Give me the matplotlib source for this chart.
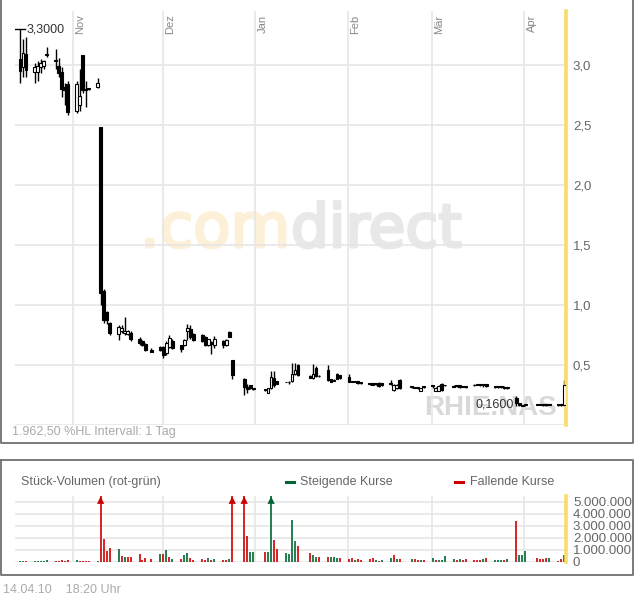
import matplotlib
matplotlib.use("Agg")
import matplotlib.pyplot as plt
import matplotlib.dates as mdates
import matplotlib.patheffects as pe
from matplotlib.patches import Rectangle
from matplotlib.lines import Line2D
import numpy as np

plt.rcParams['font.family'] = ['Liberation Sans', 'DejaVu Sans']

# daily candles (RHIE.NAS), one entry per trading day
dates = [
    "2009-10-14", "2009-10-15", "2009-10-16",
    "2009-10-19", "2009-10-20", "2009-10-21", "2009-10-22", "2009-10-23",
    "2009-10-26", "2009-10-27", "2009-10-28", "2009-10-29", "2009-10-30",
    "2009-11-02", "2009-11-03", "2009-11-04", "2009-11-05", "2009-11-06",
    "2009-11-09", "2009-11-10", "2009-11-11", "2009-11-12", "2009-11-13",
    "2009-11-16", "2009-11-17", "2009-11-18", "2009-11-19", "2009-11-20",
    "2009-11-23", "2009-11-24", "2009-11-25", "2009-11-27",
    "2009-11-30", "2009-12-01", "2009-12-02", "2009-12-03", "2009-12-04",
    "2009-12-07", "2009-12-08", "2009-12-09", "2009-12-10", "2009-12-11",
    "2009-12-14", "2009-12-15", "2009-12-16", "2009-12-17", "2009-12-18",
    "2009-12-21", "2009-12-22", "2009-12-23", "2009-12-24",
    "2009-12-28", "2009-12-29", "2009-12-30", "2009-12-31",
    "2010-01-04", "2010-01-05", "2010-01-06", "2010-01-07", "2010-01-08",
    "2010-01-11", "2010-01-12", "2010-01-13", "2010-01-14", "2010-01-15",
    "2010-01-19", "2010-01-20", "2010-01-21", "2010-01-22",
    "2010-01-25", "2010-01-26", "2010-01-27", "2010-01-28", "2010-01-29",
    "2010-02-01", "2010-02-02", "2010-02-03", "2010-02-04", "2010-02-05",
    "2010-02-08", "2010-02-09", "2010-02-10", "2010-02-11", "2010-02-12",
    "2010-02-15", "2010-02-16", "2010-02-17", "2010-02-18",
    "2010-02-22", "2010-02-23", "2010-02-24", "2010-02-25", "2010-02-26",
    "2010-03-01", "2010-03-02", "2010-03-03", "2010-03-04", "2010-03-05",
    "2010-03-08", "2010-03-09", "2010-03-10", "2010-03-11", "2010-03-12",
    "2010-03-15", "2010-03-16", "2010-03-17", "2010-03-18", "2010-03-19",
    "2010-03-22", "2010-03-23", "2010-03-24", "2010-03-25", "2010-03-26",
    "2010-03-29", "2010-03-30", "2010-03-31", "2010-04-01",
    "2010-04-05", "2010-04-06", "2010-04-07", "2010-04-08", "2010-04-09",
    "2010-04-12", "2010-04-13", "2010-04-14",
]
opens = [
    3.05, 2.98, 3.09,
    2.94, 2.94, 2.98, 2.99, 3.08,
    3.04, 2.99, 2.94, 2.82, 2.84,
    2.62, 2.67, 3.08, 2.80, 2.80,
    2.82, 2.48, 1.12, 0.94, 0.85,
    0.76, 0.78, 0.77, 0.76, 0.77,
    0.72, 0.70, 0.675, 0.625,
    0.65, 0.65, 0.60, 0.65, 0.70,
    0.665, 0.665, 0.78, 0.80, 0.76,
    0.75, 0.73, 0.665, 0.69, 0.665,
    0.70, 0.665, 0.775, 0.54,
    0.385, 0.32, 0.33, 0.30,
    0.29, 0.27, 0.31, 0.39, 0.37,
    0.36, 0.36, 0.365, 0.425, 0.50,
    0.41, 0.39, 0.475, 0.41,
    0.46, 0.38, 0.375, 0.425, 0.42,
    0.40, 0.37, 0.365, 0.365, 0.35,
    0.345, 0.35, 0.345, 0.35, 0.35,
    0.35, 0.29, 0.31, 0.375,
    0.32, 0.315, 0.31, 0.285, 0.315,
    0.33, 0.285, 0.285, 0.34, 0.335,
    0.325, 0.33, 0.33, 0.32, 0.32,
    0.335, 0.335, 0.34, 0.335, 0.34,
    0.32, 0.315, 0.32, 0.32, 0.31,
    0.225, 0.18, 0.165, 0.165,
    0.17, 0.17, 0.165, 0.165, 0.17,
    0.165, 0.165, 0.165,
]
highs = [
    3.30, 3.22, 3.23,
    3.02, 3.03, 3.05, 3.04, 3.15,
    3.13, 3.06, 2.98, 2.85, 2.87,
    2.87, 2.97, 3.08, 2.87, 2.81,
    2.89, 2.48, 1.13, 0.95, 0.86,
    0.83, 0.83, 0.90, 0.79, 0.78,
    0.73, 0.71, 0.68, 0.64,
    0.66, 0.66, 0.70, 0.75, 0.72,
    0.67, 0.72, 0.84, 0.83, 0.77,
    0.76, 0.74, 0.72, 0.70, 0.74,
    0.71, 0.72, 0.78, 0.54,
    0.39, 0.34, 0.33, 0.305,
    0.295, 0.31, 0.45, 0.45, 0.37,
    0.36, 0.37, 0.52, 0.52, 0.51,
    0.42, 0.51, 0.49, 0.415,
    0.50, 0.38, 0.38, 0.43, 0.42,
    0.425, 0.37, 0.37, 0.365, 0.35,
    0.35, 0.35, 0.35, 0.355, 0.35,
    0.375, 0.34, 0.34, 0.38,
    0.325, 0.32, 0.315, 0.31, 0.32,
    0.335, 0.315, 0.33, 0.35, 0.335,
    0.33, 0.335, 0.335, 0.325, 0.325,
    0.34, 0.34, 0.345, 0.34, 0.345,
    0.325, 0.32, 0.325, 0.325, 0.32,
    0.24, 0.185, 0.17, 0.17,
    0.175, 0.17, 0.17, 0.17, 0.17,
    0.17, 0.17, 0.375,
]
lows = [
    2.85, 2.90, 2.90,
    2.85, 2.87, 2.93, 2.97, 3.07,
    2.97, 2.90, 2.73, 2.67, 2.58,
    2.60, 2.62, 2.77, 2.65, 2.79,
    2.81, 1.00, 0.85, 0.84, 0.75,
    0.71, 0.77, 0.75, 0.75, 0.70,
    0.67, 0.66, 0.62, 0.61,
    0.62, 0.56, 0.58, 0.64, 0.63,
    0.61, 0.66, 0.71, 0.72, 0.70,
    0.69, 0.66, 0.66, 0.59, 0.64,
    0.64, 0.66, 0.73, 0.38,
    0.25, 0.27, 0.30, 0.295,
    0.285, 0.27, 0.30, 0.32, 0.34,
    0.355, 0.34, 0.36, 0.42, 0.41,
    0.39, 0.38, 0.40, 0.40,
    0.37, 0.36, 0.37, 0.38, 0.385,
    0.36, 0.355, 0.355, 0.34, 0.345,
    0.335, 0.33, 0.335, 0.32, 0.325,
    0.335, 0.285, 0.30, 0.30,
    0.31, 0.305, 0.30, 0.28, 0.31,
    0.31, 0.28, 0.28, 0.285, 0.325,
    0.315, 0.32, 0.31, 0.315, 0.31,
    0.325, 0.33, 0.325, 0.32, 0.32,
    0.31, 0.305, 0.305, 0.30, 0.30,
    0.16, 0.16, 0.16, 0.16,
    0.165, 0.165, 0.16, 0.16, 0.165,
    0.16, 0.16, 0.16,
]
closes = [
    2.95, 3.10, 2.96,
    2.98, 2.99, 3.02, 3.03, 3.09,
    3.03, 2.93, 2.80, 2.79, 2.61,
    2.84, 2.74, 2.79, 2.79, 2.80,
    2.85, 1.10, 0.875, 0.875, 0.77,
    0.82, 0.81, 0.78, 0.78, 0.72,
    0.68, 0.67, 0.625, 0.61,
    0.625, 0.58, 0.68, 0.725, 0.64,
    0.635, 0.71, 0.81, 0.73, 0.71,
    0.70, 0.665, 0.715, 0.675, 0.715,
    0.665, 0.71, 0.735, 0.42,
    0.315, 0.30, 0.31, 0.30,
    0.29, 0.31, 0.40, 0.33, 0.34,
    0.355, 0.355, 0.425, 0.46, 0.415,
    0.39, 0.425, 0.41, 0.405,
    0.375, 0.36, 0.37, 0.385, 0.39,
    0.36, 0.36, 0.36, 0.35, 0.35,
    0.34, 0.335, 0.34, 0.325, 0.33,
    0.345, 0.33, 0.335, 0.31,
    0.315, 0.31, 0.31, 0.31, 0.315,
    0.325, 0.31, 0.325, 0.29, 0.33,
    0.32, 0.325, 0.315, 0.32, 0.315,
    0.33, 0.335, 0.33, 0.34, 0.325,
    0.315, 0.32, 0.315, 0.305, 0.315,
    0.18, 0.17, 0.16, 0.165,
    0.17, 0.165, 0.165, 0.17, 0.165,
    0.165, 0.165, 0.33,
]
# volume in millions of shares, vol_up: 1 = rising (green), 0 = falling (red)
volumes = [
    0.08, 0.08, 0.08,
    0.08, 0.08, 0.08, 0.08, 0.17,
    0.08, 0.08, 0.17, 0.08, 0.17,
    0.17, 0.08, 0.08, 0.08, 0.08,
    0.08, 9.0, 1.9, 0.9, 1.15,
    1.1, 0.5, 0.42, 0.42, 0.42,
    0.67, 0.17, 0.33, 0.25,
    0.67, 0.67, 1.0, 0.42, 0.25,
    0.25, 0.58, 0.75, 0.33, 0.17,
    0.25, 0.17, 0.33, 0.17, 0.25,
    0.17, 0.17, 0.25, 8.0,
    8.0, 2.17, 0.8, 0.8,
    0.8, 0.8, 8.0, 1.83, 1.08,
    0.75, 0.67, 3.5, 1.75, 1.36,
    0.75, 0.58, 0.42, 0.42,
    0.42, 0.42, 0.42, 0.33, 0.33,
    0.25, 0.33, 0.17, 0.25, 0.17,
    0.25, 0.33, 0.17, 0.08, 0.17,
    0.33, 0.58, 0.25, 0.25,
    0.25, 0.25, 0.17, 0.17, 0.17,
    0.33, 0.17, 0.17, 0.17, 0.5,
    0.25, 0.17, 0.25, 0.17, 0.25,
    0.17, 0.17, 0.17, 0.25, 0.33,
    0.17, 0.17, 0.17, 0.17, 0.25,
    3.42, 0.58, 0.58, 0.92,
    0.33, 0.25, 0.25, 0.33, 0.33,
    0.08, 0.25, 0.58,
]
vol_up = [
    1, 1, 0,
    1, 1, 1, 1, 1,
    0, 0, 0, 0, 0,
    1, 0, 0, 0, 0,
    1, 0, 0, 0, 0,
    1, 0, 1, 0, 0,
    0, 0, 0, 0,
    1, 0, 1, 0, 1,
    0, 1, 1, 0, 0,
    0, 0, 1, 0, 1,
    0, 0, 1, 0,
    0, 0, 1, 1,
    0, 1, 1, 0, 0,
    1, 1, 1, 1, 0,
    0, 1, 1, 0,
    0, 1, 1, 1, 0,
    0, 0, 1, 0, 0,
    0, 0, 1, 0, 1,
    1, 0, 1, 0,
    1, 0, 0, 1, 0,
    1, 0, 1, 1, 1,
    1, 0, 1, 0, 0,
    0, 0, 0, 1, 0,
    1, 1, 1, 0, 1,
    0, 1, 1, 1,
    0, 0, 0, 0, 1,
    0, 0, 1,
]

months = ["2009-11-01", "2009-12-01", "2010-01-01", "2010-02-01", "2010-03-01", "2010-04-01"]
month_labels = ["Nov", "Dez", "Jan", "Feb", "Mär", "Apr"]
price_ticks = [0.5, 1.0, 1.5, 2.0, 2.5, 3.0]
vol_ticks = [0, 1, 2, 3, 4, 5]

W, H = 634, 597


def box(x0, y0, x1, y1):
    return [x0 / W, 1 - y1 / H, (x1 - x0) / W, (y1 - y0) / H]


fig = plt.figure(figsize=(W / 100, H / 100), dpi=100)
fig.patch.set_facecolor('white')

ax = fig.add_axes(box(15, 11, 566, 425))
axv = fig.add_axes(box(15, 496, 566, 562))

x = mdates.datestr2num(dates) + 0.3
o = np.array(opens)
h = np.array(highs)
l = np.array(lows)
c = np.array(closes)

nov1 = mdates.datestr2num("2009-11-01")
xlim = (nov1 - 19.33, nov1 + 164.9)
grid_col = '#e6e6e6'
yellow = '#f9dc6a'
text_col = '#666666'
up_col = '#006633'
down_col = '#cc0000'

for a in (ax, axv):
    a.set_xlim(*xlim)
    a.set_axisbelow(True)
    a.xaxis.set_major_locator(mdates.MonthLocator())
    a.grid(True, color=grid_col, lw=1.2)
    a.tick_params(axis='x', length=0, labelbottom=False)
    a.yaxis.tick_right()
    a.tick_params(axis='y', length=0, pad=5, labelsize=9.5, labelcolor=text_col)
    for s in ('left', 'top', 'bottom'):
        a.spines[s].set_visible(False)
    a.spines['right'].set_color(yellow)
    a.spines['right'].set_linewidth(2.6)

# price panel
ax.set_ylim(0, 3.45)
ax.set_yticks([0] + price_ticks)
ax.set_yticklabels([""] + [f"{t:.1f}".replace(".", ",") for t in price_ticks])

ax.vlines(x, l, h, color='black', lw=1, zorder=2)
for xi, oi, ci in zip(x, o, c):
    bottom = min(oi, ci)
    height = max(abs(ci - oi), 0.006)
    face = 'white' if ci > oi else 'black'
    ax.add_patch(Rectangle((xi - 0.45, bottom), 0.9, height, facecolor=face,
                           edgecolor='black', lw=0.8, zorder=3))

for m, lab in zip(months, month_labels):
    ax.text(mdates.datestr2num(m) + 0.7, 3.42, lab, rotation=90, ha='left', va='top',
            fontsize=8, color='#888888')

# max / min markers
imax = int(np.argmax(h))
imin = int(np.argmin(l))
ax.plot([x[imax] - 1.5, x[imax] + 1.8], [h[imax], h[imax]], color='black', lw=1, zorder=3)
ax.text(x[imax] + 2.4, h[imax], f"{h[imax]:.4f}".replace(".", ","), ha='left', va='center',
        fontsize=9, color='#333333')
ax.text(x[imin] - 0.8, l[imin] + 0.012, f"{l[imin]:.4f}".replace(".", ","), ha='right',
        va='center', fontsize=9, color='#333333', zorder=4)

# watermarks
thick = [pe.withStroke(linewidth=2.2, foreground='#fdf0d9')]
ax.text(290 / W, 1 - 247 / H, ".com", transform=fig.transFigure, fontsize=44,
        color='#fdf0d9', ha='right', va='baseline', family='DejaVu Sans', zorder=0.1,
        path_effects=thick)
thick = [pe.withStroke(linewidth=2.2, foreground='#e8e8e8')]
ax.text(291 / W, 1 - 247 / H, "direct", transform=fig.transFigure, fontsize=43,
        color='#e8e8e8', ha='left', va='baseline', family='DejaVu Sans', zorder=0.1,
        path_effects=thick)
ax.text(557 / W, 1 - 415 / H, "RHIE.NAS", transform=fig.transFigure, fontsize=20,
        fontweight='bold', color='#d9d9d9', ha='right', va='baseline', zorder=0.1)

fig.text(12 / W, 1 - 432 / H, "1.962,50 %HL Intervall: 1 Tag", fontsize=9,
         color='#aaaaaa', ha='left', va='center')

# volume panel
vol = np.array(volumes)
vtop = 5.5
axv.set_ylim(0, vtop)
axv.set_yticks(vol_ticks)
axv.set_yticklabels([f"{t * 1000000:,}".replace(",", ".") for t in vol_ticks])
cols = np.array([up_col if u else down_col for u in vol_up])
axv.vlines(x, 0, np.minimum(vol, vtop), colors=cols, lw=1.2, zorder=2)
over = vol > vtop
axv.scatter(x[over], np.full(over.sum(), 5.15), marker='^', s=28, c=cols[over],
            linewidths=0, clip_on=False, zorder=3)

fig.text(21 / W, 1 - 482 / H, "Stück-Volumen (rot-grün)", fontsize=9, color=text_col,
         ha='left', va='center')
fig.add_artist(Line2D([286 / W, 294 / W], [1 - 482 / H] * 2, color=up_col, lw=2.2))
fig.text(300 / W, 1 - 482 / H, "Steigende Kurse", fontsize=9, color=text_col,
         ha='left', va='center')
fig.add_artist(Line2D([455 / W, 463 / W], [1 - 482 / H] * 2, color=down_col, lw=2.2))
fig.text(470 / W, 1 - 482 / H, "Fallende Kurse", fontsize=9, color=text_col,
         ha='left', va='center')

# panel frames
frame = '#707070'
fig.add_artist(Line2D([1 / W, 1 / W, 632.5 / W, 632.5 / W], [1.01, 1 - 443 / H, 1 - 443 / H, 1.01],
                      color=frame, lw=1.3))
fig.add_artist(Line2D([1 / W, 1 / W, 632.5 / W, 632.5 / W, 1 / W],
                      [1 - 460 / H, 1 - 575 / H, 1 - 575 / H, 1 - 460 / H, 1 - 460 / H],
                      color=frame, lw=1.3))

fig.text(3 / W, 1 - 590 / H, "14.04.10    18:20 Uhr", fontsize=9, color='#aaaaaa',
         ha='left', va='center')

fig.savefig("out.png", dpi=100)
